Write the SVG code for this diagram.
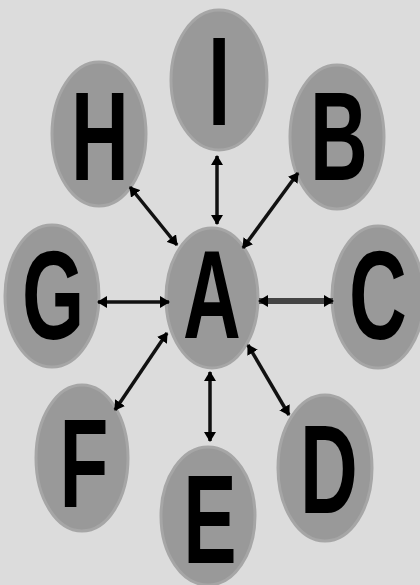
<svg xmlns="http://www.w3.org/2000/svg" width="420" height="585" viewBox="0 0 420 585">
<defs>
<marker id="ah" viewBox="0 0 10 12" markerWidth="10" markerHeight="12" refX="9" refY="6" orient="auto-start-reverse" markerUnits="userSpaceOnUse">
<path d="M0,0 L10,6 L0,12 z" fill="#000"/>
</marker>
</defs>
<style>
.bg{fill:#dcdcdc}
.nd{fill:#999999;stroke:#a6a6a6;stroke-width:3}
.lb{font-family:"Liberation Sans",Arial,sans-serif;font-weight:bold;font-size:127px;fill:#000;text-anchor:middle}
.cn{stroke:#111;stroke-width:3.5;fill:none;marker-start:url(#ah);marker-end:url(#ah)}
.thick{stroke:#444;stroke-width:6}
</style>
<rect class="bg" x="0" y="0" width="420" height="585"/>
<g id="node-I"><ellipse class="nd" cx="219" cy="80" rx="48" ry="70"/><text class="lb" transform="translate(219,125) scale(0.63,1)">I</text></g>
<g id="node-H"><ellipse class="nd" cx="99" cy="134" rx="47" ry="72"/><text class="lb" transform="translate(100,180) scale(0.63,1)">H</text></g>
<g id="node-B"><ellipse class="nd" cx="337" cy="137" rx="47" ry="72"/><text class="lb" transform="translate(339,180) scale(0.63,1)">B</text></g>
<g id="node-G"><ellipse class="nd" cx="52" cy="296" rx="47" ry="71"/><text class="lb" transform="translate(53,339) scale(0.63,1)">G</text></g>
<g id="node-A"><ellipse class="nd" cx="212" cy="298" rx="46" ry="70"/><text class="lb" transform="translate(212,338) scale(0.63,1)">A</text></g>
<g id="node-C"><ellipse class="nd" cx="378" cy="297" rx="46" ry="71"/><text class="lb" transform="translate(378,339) scale(0.63,1)">C</text></g>
<g id="node-F"><ellipse class="nd" cx="82" cy="458" rx="46" ry="73"/><text class="lb" transform="translate(84,507) scale(0.63,1)">F</text></g>
<g id="node-E"><ellipse class="nd" cx="208" cy="516" rx="47" ry="69"/><text class="lb" transform="translate(210,563) scale(0.63,1)">E</text></g>
<g id="node-D"><ellipse class="nd" cx="325" cy="468" rx="47" ry="73"/><text class="lb" transform="translate(329,513) scale(0.63,1)">D</text></g>
<g id="connectors">
<line class="cn" x1="217" y1="156" x2="217" y2="224"/>
<line class="cn" x1="130" y1="187" x2="177" y2="245"/>
<line class="cn" x1="298" y1="173" x2="243" y2="248"/>
<line class="cn" x1="98" y1="302" x2="169" y2="302"/>
<line class="cn thick" x1="259" y1="301" x2="333" y2="301"/>
<line class="cn" x1="115" y1="410" x2="167" y2="333"/>
<line class="cn" x1="210" y1="372" x2="210" y2="441"/>
<line class="cn" x1="248" y1="345" x2="289" y2="415"/>
</g>
</svg>
